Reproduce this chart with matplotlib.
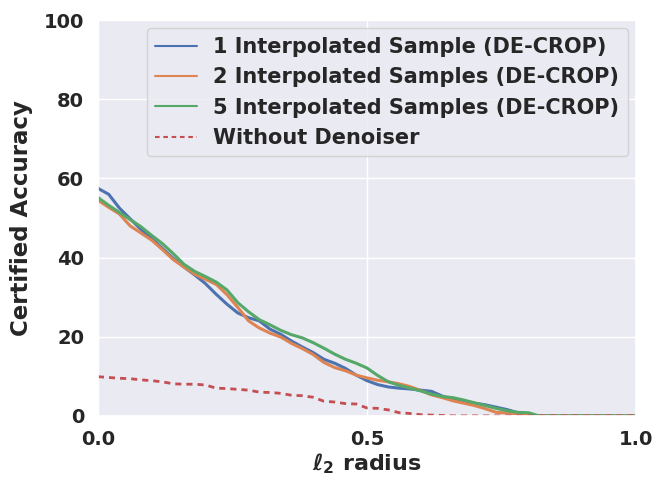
import matplotlib
matplotlib.use("Agg")
import matplotlib.pyplot as plt
import seaborn as sns

sns.set_theme(style="darkgrid")
plt.rcParams['font.family'] = ['DejaVu Sans']
plt.rcParams['font.weight'] = 'bold'

radius = [0.00, 0.02, 0.04, 0.06, 0.08, 0.10, 0.12, 0.14, 0.16, 0.18,
          0.20, 0.22, 0.24, 0.26, 0.28, 0.30, 0.32, 0.34, 0.36, 0.38,
          0.40, 0.42, 0.44, 0.46, 0.48, 0.50, 0.52, 0.54, 0.56, 0.58,
          0.60, 0.62, 0.64, 0.66, 0.68, 0.70, 0.72, 0.74, 0.76, 0.78,
          0.80, 0.82, 0.84, 0.86, 0.88, 0.90, 0.92, 0.94, 0.96, 0.98, 1.00]

acc_1 = [57.5, 56.0, 52.5, 49.8, 47.1, 44.8, 42.3, 39.8, 37.6, 35.6,
         33.4, 30.7, 28.2, 26.0, 24.8, 24.0, 21.9, 20.6, 18.9, 17.4,
         16.0, 14.3, 13.3, 12.0, 10.3, 8.9, 7.9, 7.3, 7.0, 6.8,
         6.5, 6.2, 5.0, 4.2, 3.7, 3.2, 2.8, 2.2, 1.6, 0.8,
         0.3, 0.0, 0.0, 0.0, 0.0, 0.0, 0.0, 0.0, 0.0, 0.0, 0.0]

acc_2 = [54.5, 52.7, 51.0, 48.0, 46.2, 44.4, 42.0, 39.5, 37.6, 35.8,
         34.5, 33.2, 30.6, 27.4, 24.0, 22.2, 20.9, 19.9, 18.3, 17.0,
         15.5, 13.5, 12.2, 11.4, 10.3, 9.6, 9.0, 8.6, 8.1, 7.4,
         6.4, 5.3, 4.6, 3.8, 3.2, 2.6, 1.8, 0.9, 0.7, 0.5,
         0.2, 0.0, 0.0, 0.0, 0.0, 0.0, 0.0, 0.0, 0.0, 0.0, 0.0]

acc_5 = [55.2, 53.2, 51.4, 49.6, 47.8, 45.6, 43.5, 41.0, 38.3, 36.5,
         35.2, 33.8, 31.8, 28.6, 26.3, 24.3, 23.0, 21.6, 20.5, 19.7,
         18.5, 17.1, 15.6, 14.3, 13.3, 12.1, 10.2, 8.6, 7.7, 7.0,
         6.3, 5.5, 4.9, 4.6, 4.0, 3.3, 2.6, 1.9, 1.3, 0.9,
         0.8, 0.0, 0.0, 0.0, 0.0, 0.0, 0.0, 0.0, 0.0, 0.0, 0.0]

acc_none = [9.9, 9.7, 9.5, 9.4, 9.1, 8.9, 8.6, 8.1, 8.0, 8.0,
            7.8, 7.0, 6.9, 6.7, 6.5, 6.0, 5.9, 5.7, 5.2, 5.1,
            4.7, 3.7, 3.5, 3.1, 3.0, 2.0, 1.9, 1.5, 0.8, 0.6,
            0.3, 0.2, 0.1, 0.0, 0.0, 0.0, 0.0, 0.0, 0.0, 0.0,
            0.0, 0.0, 0.0, 0.0, 0.0, 0.0, 0.0, 0.0, 0.0, 0.0, 0.0]

labels = ["1 Interpolated Sample (DE-CROP)",
          "2 Interpolated Samples (DE-CROP)",
          "5 Interpolated Samples (DE-CROP)",
          "Without Denoiser"]

pal = sns.color_palette("deep")

fig = plt.figure(figsize=(6.66, 4.91), dpi=100)
ax = fig.add_axes([0.147, 0.153, 0.808, 0.806])

ax.plot(radius, acc_1, color=pal[0], lw=2.2, label=labels[0])
ax.plot(radius, acc_2, color=pal[1], lw=2.2, label=labels[1])
ax.plot(radius, acc_5, color=pal[2], lw=2.2, label=labels[2])
ax.plot(radius, acc_none, color=pal[3], lw=2.0, linestyle=(0, (2.2, 1.8)), label=labels[3])

ax.set_xlim(0, 1)
ax.set_ylim(0, 100)
ax.set_xticks([0.0, 0.5, 1.0])
ax.set_yticks([0, 20, 40, 60, 80, 100])
ax.tick_params(axis='both', labelsize=14, pad=4)
for t in ax.get_xticklabels() + ax.get_yticklabels():
    t.set_fontweight('bold')

ax.set_xlabel(r"$\ell_2$ radius", fontsize=16, fontweight='bold', labelpad=2)
ax.set_ylabel("Certified Accuracy", fontsize=16.5, fontweight='bold', labelpad=8)

leg = ax.legend(loc='upper right', prop={'size': 15, 'weight': 'bold'},
                frameon=True, handlelength=2.0, borderaxespad=0.4)
for line in leg.get_lines():
    line.set_linewidth(1.5)

fig.savefig("out.png", dpi=100)
